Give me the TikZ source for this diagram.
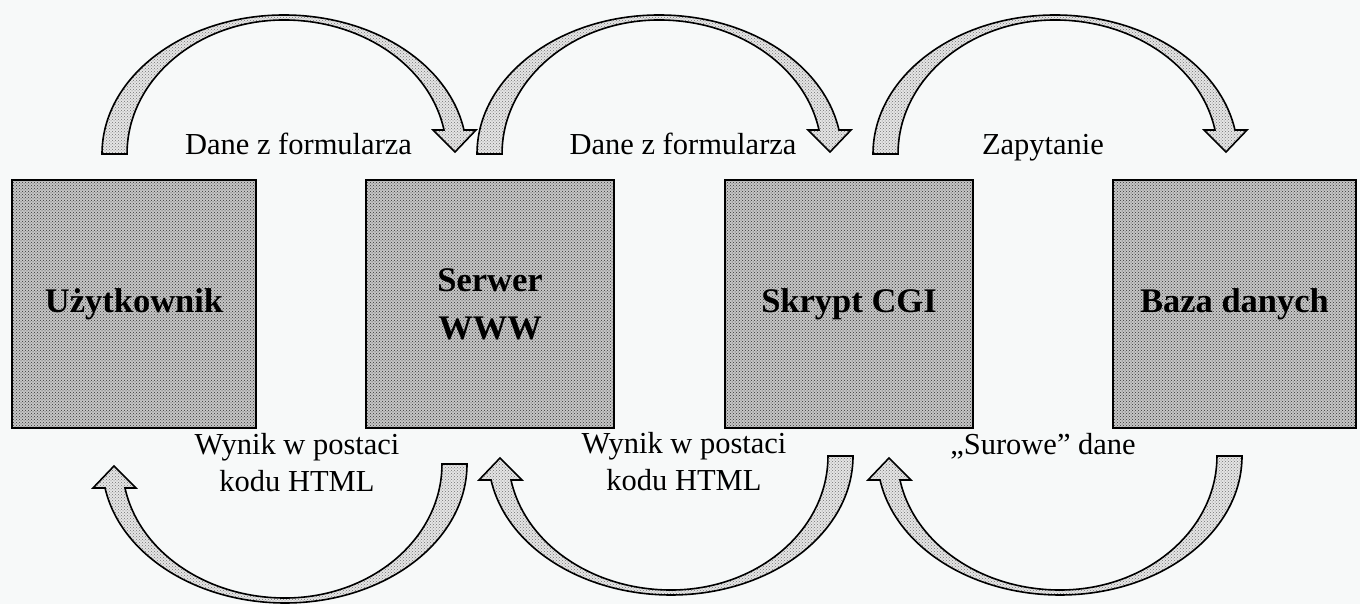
\documentclass[tikz,border=0pt]{standalone}
\usepackage{fontspec}
\setmainfont{Liberation Serif}
\usetikzlibrary{patterns}
\definecolor{bgcol}{RGB}{247,249,249}
\tikzset{
  boxstyle/.style={draw=black, line width=1.8pt, rectangle, inner sep=0pt,
    preaction={fill=gray!45}, pattern=crosshatch dots, pattern color=black!80,
    align=center, font=\fontsize{34.5}{48}\selectfont\bfseries},
  arrowstyle/.style={draw=black, line width=1.6pt, line join=miter,
    preaction={fill=gray!20}, pattern=crosshatch dots, pattern color=black!55},
  lbl/.style={inner sep=0pt, align=center, font=\fontsize{30.5}{37}\selectfont},
  curvedarrow/.pic={
    \path[arrowstyle] (0,0)
      arc[start angle=180, end angle=90, x radius=182, y radius=139]
      arc[start angle=90, end angle=9.94, x radius=182.7, y radius=139]
      -- (374,24) -- (353,2) -- (331,24) -- (342,24)
      arc[start angle=10.31, end angle=90, x radius=162.6, y radius=134]
      arc[start angle=90, end angle=180, x radius=157, y radius=134]
      -- cycle;
  }
}
\begin{document}
\begin{tikzpicture}[x=1pt, y=1pt]
  \fill[bgcol] (0,0) rectangle (1360,604);
  \useasboundingbox (0,0) rectangle (1360,604);

  % boxes
  \node[boxstyle, minimum width=244pt, minimum height=248pt] (user) at (134,300) {Użytkownik};
  \node[boxstyle, minimum width=248pt, minimum height=248pt] (www) at (490,300) {Serwer\\WWW};
  \node[boxstyle, minimum width=248pt, minimum height=248pt] (cgi) at (849,300) {Skrypt CGI};
  \node[boxstyle, minimum width=243pt, minimum height=248pt] (db) at (1234.5,300) {Baza danych};

  % curved arrows (top, left to right)
  \pic at (102,450) {curvedarrow};
  \pic at (477,450) {curvedarrow};
  \pic at (873,450) {curvedarrow};
  % curved arrows (bottom, right to left)
  \pic[rotate=180] at (467,140) {curvedarrow};
  \pic[rotate=180] at (853,148) {curvedarrow};
  \pic[rotate=180] at (1242,148) {curvedarrow};

  % labels
  \node[lbl, anchor=base] (l1) at (298.5,449) {Dane z formularza};
  \node[lbl, anchor=base] (l2) at (683,449) {Dane z formularza};
  \node[lbl, anchor=base] (l3) at (1043,449) {Zapytanie};
  \node[lbl, anchor=base] (l4) at (297,112) {Wynik w postaci\\kodu HTML};
  \node[lbl, anchor=base] (l5) at (684,113) {Wynik w postaci\\kodu HTML};
  \node[lbl, anchor=base] (l6) at (1043,149) {„Surowe” dane};
\end{tikzpicture}
\end{document}
